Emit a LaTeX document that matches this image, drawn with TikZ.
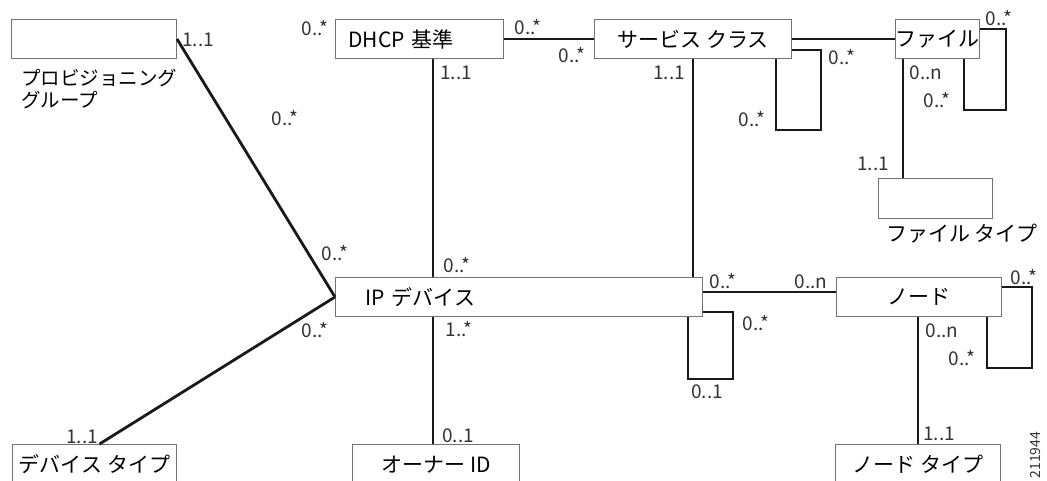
\documentclass[tikz,border=0pt]{standalone}
\usepackage{fontspec}
\setmainfont{Noto Sans CJK JP}
\usepackage{tikz}
\usetikzlibrary{positioning}

\newcommand{\boxfont}{\fontsize{21}{24}\selectfont}
\newcommand{\multfont}{\fontsize{19}{21}\selectfont}

\begin{document}
\begin{tikzpicture}[
            x = 1pt, y = -1pt, % one unit per pixel, y runs down
            entity/.style = {draw=black!55, line width=1pt, minimum height=39, inner sep=0pt, anchor=north west, font=\boxfont}, % class boxes
            link/.style = {line width=2.8pt, black!90}, % associations
            mult/.style = {font=\multfont, text=black!80, inner sep=0pt}, % multiplicities
            caption/.style = {font=\boxfont, inner sep=0pt, align=left}
        ]
	\useasboundingbox (0,0) rectangle (1047,480);

	% classes
	\node[entity, minimum width=165] (pgrp) at (11,19) {};
	\node[entity, text width=142, inner xsep=13, align=left] (dhcp) at (335,19) {DHCP 基準};
	\node[entity, minimum width=197] (svc) at (594,19) {サービス クラス};
	\node[entity, minimum width=81] (file) at (895,19) {ファイル};
	\node[entity, minimum width=114, minimum height=40] (ftype) at (878,178) {};
	\node[entity, text width=307, inner xsep=30, align=left] (ipdev) at (335,277) {IP デバイス};
	\node[entity, minimum width=165] (node) at (836,277) {ノード};
	\node[entity, minimum width=164, minimum height=40] (dtype) at (12,444) {デバイス タイプ};
	\node[entity, minimum width=167, minimum height=40] (owner) at (352,444) {オーナー ID};
	\node[entity, minimum width=165, minimum height=40] (ntype) at (835,444) {ノード タイプ};

	\node[caption, anchor=north west, font=\fontsize{19.5}{22}\selectfont] (pgrpcap) at (21,69) {プロビジョニング\\グループ};
	\node[caption] (ftypecap) at (962,234) {ファイル タイプ};

	% columns and rows of the straight links
	\coordinate (dhcpcol) at (433,0);
	\coordinate (svccol) at (693,0);
	\coordinate (filecol) at (903,0);
	\coordinate (nodecol) at (918,0);
	\coordinate (iprow) at (0,292);
	\coordinate (svcloop) at (821,130);
	\coordinate (fileloop) at (1006,110);
	\coordinate (iploop) at (733,379);
	\coordinate (nodeloop) at (1032,368);

	\draw[link] (pgrp.east) -- (ipdev.west);
	\draw[link] (ipdev.west) -- ([xshift=5pt]dtype.north);
	\draw[link] (dhcp.east) -- (svc.west);
	\draw[link] (svc.east) -- (file.west);
	\draw[link] (dhcp.south -| dhcpcol) -- (ipdev.north -| dhcpcol);
	\draw[link] (ipdev.south -| dhcpcol) -- (owner.north -| dhcpcol);
	\draw[link] (svc.south -| svccol) -- (ipdev.north -| svccol);
	\draw[link] (file.south -| filecol) -- (ftype.north -| filecol);
	\draw[link] (ipdev.east |- iprow) -- (node.west |- iprow);
	\draw[link] (node.south -| nodecol) -- (ntype.north -| nodecol);

	% self links
	\draw[link] ([yshift=9pt]svc.south east) -| (svcloop) -| ([xshift=-16pt]svc.south east);
	\draw[link] ([yshift=-10pt]file.north east) -| (fileloop) -| ([xshift=-16pt]file.south east);
	\draw[link] ([yshift=5pt]ipdev.south east) -| (iploop) -| ([xshift=-15pt]ipdev.south east);
	\draw[link] ([yshift=-10pt]node.north east) -| (nodeloop) -| ([xshift=-15pt]node.south east);

	% multiplicities
	\node[mult] (m1) at (198,40) {1..1};
	\node[mult] (m2) at (285,118) {0..*};
	\node[mult] (m3) at (315,28) {0..*};
	\node[mult] (m4) at (456,73) {1..1};
	\node[mult] (m5) at (528,27) {0..*};
	\node[mult] (m6) at (572,55) {0..*};
	\node[mult] (m7) at (669,73) {1..1};
	\node[mult] (m8) at (842,57) {0..*};
	\node[mult] (m9) at (752,119) {0..*};
	\node[mult] (m10) at (999,18) {0..*};
	\node[mult] (m11) at (926,73) {0..n};
	\node[mult] (m12) at (937,100) {0..*};
	\node[mult] (m13) at (873,164) {1..1};
	\node[mult] (m14) at (335,253) {0..*};
	\node[mult] (m15) at (457,265) {0..*};
	\node[mult] (m16) at (315,330) {0..*};
	\node[mult] (m17) at (459,329) {1..*};
	\node[mult] (m18) at (82,437) {1..1};
	\node[mult] (m19) at (458,436) {0..1};
	\node[mult] (m20) at (723,281) {0..*};
	\node[mult] (m21) at (811,282) {0..n};
	\node[mult] (m22) at (756,323) {0..*};
	\node[mult] (m23) at (707,392) {0..1};
	\node[mult] (m24) at (1024,277) {0..*};
	\node[mult] (m25) at (942,331) {0..n};
	\node[mult] (m26) at (962,358) {0..*};
	\node[mult] (m27) at (939,434) {1..1};

	\node[mult, rotate=90, font=\fontsize{14}{14}\selectfont] (figid) at (1035,455) {211944};

\end{tikzpicture}
\end{document}
